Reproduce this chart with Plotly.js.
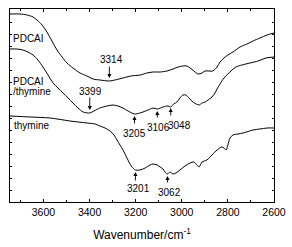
<!DOCTYPE html>
<html>
<head>
<meta charset="utf-8">
<script src="https://cdn.plot.ly/plotly-3.0.1.min.js"></script>
<style>html,body{margin:0;padding:0;background:#fff;}#chart{width:292px;height:247px;}</style>
</head>
<body>
<div id="chart"></div>
<script>
// Wavenumber (cm^-1) and relative transmittance (arbitrary units, curves offset)
const pdcaiX = [3745,3702,3671,3645,3628,3606,3585,3563,3541,3519,3498,3472,3441,3411,3385,3355,3314,3290,3255,3220,3181,3151,3125,3094,3064,3038,3016,2995,2977,2964,2947,2930,2912,2899,2882,2865,2847,2834,2817,2800,2778,2747,2717,2691,2661,2630,2600];
const pdcaiY = [188,188,187,185,182,177,170,161,152,145,139,134,129,126,123,122,121,122,124,126,127,129,130,130,131,133,135,136,136,134,131,128,129,131,131,131,135,140,144,147,150,155,158,161,164,167,169];

const mixX = [3745,3715,3689,3667,3645,3624,3602,3580,3558,3537,3515,3493,3472,3450,3428,3399,3381,3355,3324,3298,3277,3255,3233,3205,3181,3146,3125,3106,3081,3060,3048,3035,3021,3008,2995,2982,2969,2951,2938,2925,2912,2899,2886,2869,2856,2847,2834,2817,2800,2782,2765,2739,2704,2669,2635,2600];
const mixY = [153,153,152,150,147,142,135,127,119,114,109,104,99,94,90,89,91,94,96,97,96,94,91,88,89,92,94,93,95,96,95,98,100,104,107,107,104,100,98,97,99,100,102,105,109,113,118,124,128,132,135,137,139,141,144,145];

const thyX = [3745,3658,3571,3485,3411,3376,3355,3333,3311,3294,3281,3268,3255,3242,3229,3216,3201,3181,3159,3138,3125,3107,3094,3081,3073,3062,3051,3038,3025,3008,2986,2964,2947,2934,2925,2912,2891,2869,2847,2826,2817,2808,2800,2791,2778,2756,2734,2691,2661,2630,2600];
const thyY = [86,85,84,81,79,78,76,74,71,67,62,57,52,46,40,35,32,32,34,37,38,37,35,33,30,28,30,28,29,32,36,39,40,37,35,40,42,47,52,55,54,52,57,64,67,68,69,72,73,74,74];

const seriesNames = ['PDCAI', 'PDCAI/thymine', 'thymine'];
const xTickVals = [3600,3400,3200,3000,2800,2600];
const xTickText = ['3600','3400','3200','3000','2800','2600'];

// Peak labels: which series, wavenumber, text, arrow direction (-1 arrow points down onto curve from above, +1 from below)
const peakSeries = [0,1,1,1,1,2,2];
const peakX = [3314,3399,3205,3106,3048,3201,3062];
const peakText = ['3314','3399','3205','3106','3048','3201','3062'];
const peakSide = [-1,-1,1,1,1,1,1];

const allX = [pdcaiX, mixX, thyX];
const allY = [pdcaiY, mixY, thyY];

function interp(xs, ys, x){
  for(let i=0;i<xs.length-1;i++){
    const a=xs[i], b=xs[i+1];
    if((x<=a && x>=b)||(x>=a && x<=b)){
      const t=(x-a)/(b-a);
      return ys[i]+t*(ys[i+1]-ys[i]);
    }
  }
  return ys[ys.length-1];
}

const traces = allX.map((xs,i)=>({
  x: xs, y: allY[i], type:'scatter', mode:'lines', name: seriesNames[i],
  line:{color:'#000', width:1, shape:'spline', smoothing:0.8}, hoverinfo:'skip'
}));

const font = {family:'Arial, "Liberation Sans", sans-serif', color:'#000'};
const annotations = [];
// per-label layout tweaks (pixel offsets)
const gap = [3,3,2,2,1,2,2];
const alen = [13,14,9,8,9,10,8];
const tx = [2,1,0,1,9,3,2];
const ty = [19,19,17,16,17,16,16];
peakX.forEach((px,i)=>{
  const s = peakSeries[i];
  const cy = interp(allX[s], allY[s], px);
  const side = peakSide[i];
  const tipY = cy - side*gap[i];
  annotations.push({x:px, y:tipY, xref:'x', yref:'y', text:'', showarrow:true,
    ax:0, ay: side*alen[i], arrowhead:2, arrowsize:0.9, arrowwidth:0.9, arrowcolor:'#000'});
  annotations.push({x:px, y:tipY, xref:'x', yref:'y', text:peakText[i], showarrow:false,
    xshift: tx[i], yshift: -side*ty[i], font:Object.assign({size:10}, font)});
});
// series labels
annotations.push({xref:'paper', x:0, xshift:1, xanchor:'left', yref:'y', y:164, text:'PDCAI', showarrow:false, font:Object.assign({size:10},font)});
annotations.push({xref:'paper', x:0, xshift:1, xanchor:'left', yref:'y', y:120.5, text:'PDCAI', showarrow:false, font:Object.assign({size:10},font)});
annotations.push({xref:'paper', x:0, xshift:1, xanchor:'left', yref:'y', y:111, text:'/thymine', showarrow:false, font:Object.assign({size:10},font)});
annotations.push({xref:'paper', x:0, xshift:2, xanchor:'left', yref:'y', y:77, text:'thymine', showarrow:false, font:Object.assign({size:10},font)});

const layout = {
  width:292, height:247,
  margin:{l:10, r:18, t:9, b:45},
  paper_bgcolor:'#fff', plot_bgcolor:'#fff',
  showlegend:false,
  font: Object.assign({size:10.5}, font),
  xaxis:{
    range:[3745,2600], tickvals:xTickVals, ticktext:xTickText,
    ticks:'inside', ticklen:3, tickwidth:1, tickcolor:'#000',
    minor:{dtick:100, ticks:'inside', ticklen:2, tickcolor:'#000'},
    showline:true, linecolor:'#000', linewidth:1.2, mirror:'ticks',
    showgrid:false, zeroline:false,
    tickfont:Object.assign({size:10.5}, font),
    title:{text:'Wavenumber/cm<sup>-1</sup>', font:Object.assign({size:12}, font), standoff:13}
  },
  yaxis:{
    range:[0,193], dtick:12, tick0:0, showticklabels:false,
    ticks:'inside', ticklen:2, tickwidth:1, tickcolor:'#000',
    showline:true, linecolor:'#000', linewidth:1.2, mirror:'ticks',
    showgrid:false, zeroline:false
  },
  annotations: annotations
};

Plotly.newPlot('chart', traces, layout, {staticPlot:true, displayModeBar:false});
</script>
</body>
</html>
